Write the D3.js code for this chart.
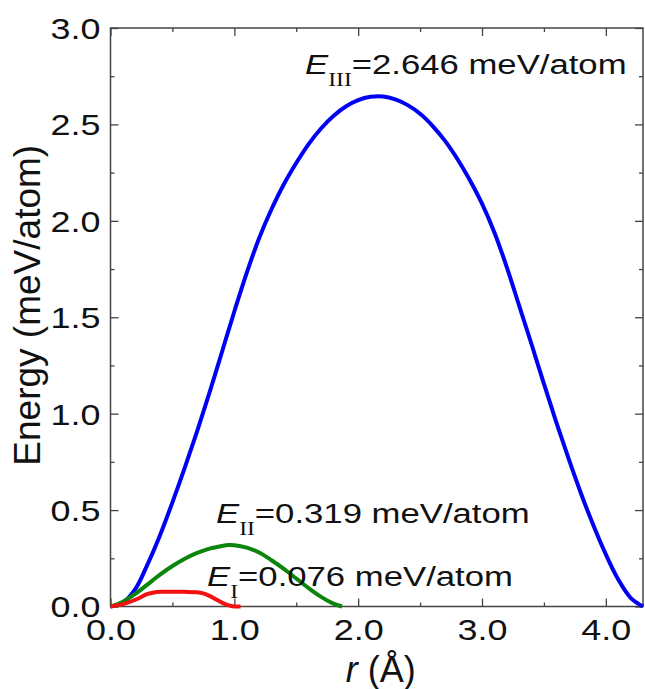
<!DOCTYPE html>
<meta charset="utf-8">
<style>
body { margin: 0; background: #fff; }
.frame { fill: none; stroke: #444; stroke-width: 1.5; }
.axis path { display: none; }
.axis line { stroke: #444; stroke-width: 1.3; }
.axis text { font-family: "Liberation Sans", Arial, sans-serif; font-size: 29px; fill: #111; }
.curve { fill: none; stroke-width: 4; stroke-linejoin: round; }
.note { font-family: "Liberation Sans", Arial, sans-serif; font-size: 28px; fill: #111; }
</style>
<body>
<div id="chart"></div>
<script src="https://d3js.org/d3.v7.min.js"></script>
<script>
// r (Angstrom) and energy (meV/atom)
var rIII = [0,0.1,0.2,0.3,0.4,0.5,0.6,0.7,0.8,0.9,1.0,1.1,1.2,1.3,1.4,1.5,1.6,1.7,1.8,1.9,2.0,2.1,
            2.2,2.3,2.4,2.5,2.6,2.7,2.8,2.9,3.0,3.1,3.2,3.3,3.4,3.5,3.6,3.7,3.8,3.9,4.0,4.1,4.2,4.3];
var eIII = [0,0.02,0.09,0.22,0.37,0.54,0.72,0.91,1.11,1.32,1.53,1.73,1.91,2.06,2.19,2.30,2.398,2.479,2.544,2.593,2.626,2.643,
            2.645,2.630,2.600,2.555,2.493,2.416,2.322,2.213,2.089,1.94,1.76,1.56,1.36,1.155,0.955,0.765,0.585,0.42,0.27,0.14,0.045,0];

var rII = [0,0.1,0.2,0.3,0.4,0.5,0.6,0.7,0.8,0.9,0.95,1.0,1.1,1.2,1.3,1.4,1.5,1.6,1.7,1.8,1.87];
var eII = [0,0.025,0.065,0.115,0.165,0.21,0.248,0.278,0.30,0.314,0.319,0.318,0.305,0.28,0.24,0.195,0.145,0.095,0.05,0.015,0];

var rI = [0,0.1,0.2,0.3,0.35,0.4,0.5,0.6,0.7,0.75,0.8,0.85,0.9,0.95,1.0,1.05];
var eI = [0,0.012,0.035,0.065,0.073,0.076,0.076,0.076,0.074,0.068,0.055,0.038,0.02,0.007,0,0];

var xMajor = [0,1,2,3,4];
var xMinor = [0.5,1.5,2.5,3.5];
var yMajor = [0,0.5,1,1.5,2,2.5,3];
var yMinor = [0.25,0.75,1.25,1.75,2.25,2.75];

var margin = {top: 28, right: 2, bottom: 82.5, left: 110.5},
    width = 645 - margin.left - margin.right,
    height = 689 - margin.top - margin.bottom;

var sx = 1.24; // the figure's lettering is set wide

var svg = d3.select("#chart").append("svg")
    .attr("width", 645)
    .attr("height", 689)
  .append("g")
    .attr("transform", "translate(" + margin.left + "," + margin.top + ")");

var x = d3.scaleLinear().domain([0, 4.3]).range([0, width]);
var y = d3.scaleLinear().domain([0, 3]).range([height, 0]);

function wide(sel, dx) {
  sel.selectAll("text")
     .attr("x", dx / sx)
     .attr("transform", "scale(" + sx + ",1)");
}

// left axis with labels
svg.append("g").attr("class", "axis")
   .call(d3.axisLeft(y).tickValues(yMajor).tickSize(-8).tickPadding(10).tickFormat(d3.format(".1f")))
   .call(wide, -10)
   .selectAll("text").attr("dy", "0.36em");
svg.append("g").attr("class", "axis")
   .call(d3.axisLeft(y).tickValues(yMinor).tickSize(-4).tickFormat(""));

// right axis ticks
svg.append("g").attr("class", "axis")
   .attr("transform", "translate(" + width + ",0)")
   .call(d3.axisRight(y).tickValues(yMajor).tickSize(-8).tickFormat(""));
svg.append("g").attr("class", "axis")
   .attr("transform", "translate(" + width + ",0)")
   .call(d3.axisRight(y).tickValues(yMinor).tickSize(-4).tickFormat(""));

// bottom axis with labels
svg.append("g").attr("class", "axis")
   .attr("transform", "translate(0," + height + ")")
   .call(d3.axisBottom(x).tickValues(xMajor).tickSize(-8).tickPadding(13).tickFormat(d3.format(".1f")))
   .call(wide, 0);
svg.append("g").attr("class", "axis")
   .attr("transform", "translate(0," + height + ")")
   .call(d3.axisBottom(x).tickValues(xMinor).tickSize(-4).tickFormat(""));

// top axis ticks
svg.append("g").attr("class", "axis")
   .call(d3.axisTop(x).tickValues(xMajor).tickSize(-8).tickFormat(""));
svg.append("g").attr("class", "axis")
   .call(d3.axisTop(x).tickValues(xMinor).tickSize(-4).tickFormat(""));

svg.append("rect").attr("class", "frame")
   .attr("width", width).attr("height", height);

// curves
var line = d3.line()
    .x(function(d) { return x(d[0]); })
    .y(function(d) { return y(d[1]); })
    .curve(d3.curveCatmullRom.alpha(0.5));

var series = [
  {r: rIII, e: eIII, color: "#0000f5"},
  {r: rII,  e: eII,  color: "#0b850b"},
  {r: rI,   e: eI,   color: "#f21010"}
];

series.forEach(function(s) {
  svg.append("path")
     .attr("class", "curve")
     .attr("stroke", s.color)
     .attr("d", line(d3.zip(s.r, s.e)));
});

// annotations
var notes = [
  {sub: "III", text: "=2.646 meV/atom", r: 1.571, e: 2.763},
  {sub: "II",  text: "=0.319 meV/atom", r: 0.852, e: 0.433},
  {sub: "I",   text: "=0.076 meV/atom", r: 0.78,  e: 0.106}
];

notes.forEach(function(n) {
  var t = svg.append("g")
     .attr("transform", "translate(" + x(n.r) + "," + y(n.e) + ")")
    .append("text")
     .attr("class", "note")
     .attr("transform", "scale(" + sx + ",1)");
  t.append("tspan").style("font-style", "italic").text("E");
  t.append("tspan")
   .attr("dy", 12)
   .style("font-family", "'Liberation Serif', 'Times New Roman', serif")
   .style("font-size", "19px")
   .text(n.sub);
  t.append("tspan").attr("dy", -12).text(n.text);
});

// axis titles
var title = svg.append("text")
   .attr("x", width / 2 + 4)
   .attr("y", height + 75)
   .attr("text-anchor", "middle")
   .attr("font-family", "Liberation Sans, Arial, sans-serif")
   .attr("font-size", "36px")
   .attr("fill", "#111");
title.append("tspan").style("font-style", "italic").text("r");
title.append("tspan").text(" (\u00c5)");

svg.append("text")
   .attr("transform", "rotate(-90)")
   .attr("x", -(height / 2) + 12)
   .attr("y", -margin.left + 40)
   .attr("text-anchor", "middle")
   .attr("font-family", "Liberation Sans, Arial, sans-serif")
   .attr("font-size", "37px")
   .attr("fill", "#111")
   .text("Energy (meV/atom)");
</script>
</body>
